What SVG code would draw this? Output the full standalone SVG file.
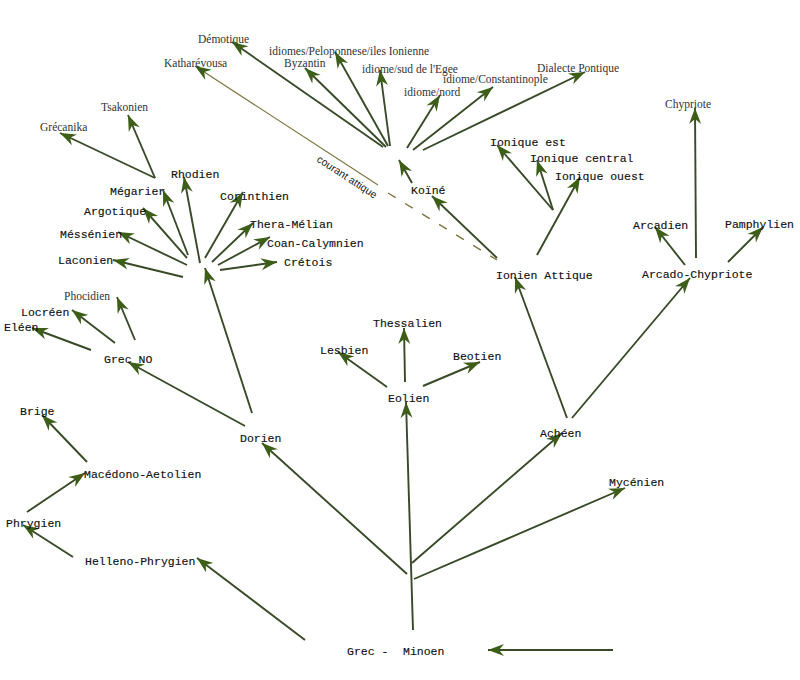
<svg xmlns="http://www.w3.org/2000/svg" width="800" height="680" viewBox="0 0 800 680">
<defs>
<style>
.m{font-family:"Liberation Mono","Courier New",monospace;font-size:11.5px;fill:#111;stroke:#111;stroke-width:0.15}
.s{font-family:"Liberation Serif","Times New Roman",serif;font-size:11.5px;fill:#333}
.c line{stroke:#384a28;stroke-width:1.9;marker-end:url(#ah)}
.c line.o{stroke:#7d7440;stroke-width:1.2}
.c line.d{stroke:#7d7440;stroke-width:1.4;stroke-dasharray:9 11;marker-end:none}
</style>
<marker id="ah" viewBox="-17 -7 18 14" refX="0" refY="0" markerWidth="18" markerHeight="14" markerUnits="userSpaceOnUse" orient="auto">
<path d="M0,0 L-16,-6 L-11,0 L-16,6 Z" fill="#3c5e17"/>
</marker>
</defs>
<rect width="800" height="680" fill="#ffffff"/>
<g class="c" id="connectors">
<line x1="383" y1="147" x2="232" y2="42"/>
<line x1="386" y1="147" x2="305" y2="68"/>
<line x1="388" y1="146" x2="335" y2="52"/>
<line x1="390" y1="146" x2="380" y2="70"/>
<line x1="407" y1="148" x2="440" y2="95"/>
<line x1="413" y1="150" x2="493" y2="87"/>
<line x1="423" y1="150" x2="585" y2="72"/>
<line x1="412" y1="183" x2="399" y2="160"/>
<line class="o" x1="378" y1="185" x2="195" y2="66"/>
<line class="d" x1="388" y1="193" x2="497" y2="260"/>
<line x1="497" y1="258" x2="432" y2="196"/>
<line x1="553" y1="210" x2="497" y2="145"/>
<line x1="553" y1="210" x2="537" y2="160"/>
<line x1="537" y1="255" x2="580" y2="177"/>
<line x1="567" y1="418" x2="515" y2="277"/>
<line x1="572" y1="418" x2="690" y2="278"/>
<line x1="696" y1="258" x2="695" y2="108"/>
<line x1="685" y1="265" x2="655" y2="227"/>
<line x1="728" y1="262" x2="763" y2="227"/>
<line x1="155" y1="178" x2="60" y2="133"/>
<line x1="155" y1="178" x2="128" y2="115"/>
<line x1="188" y1="255" x2="163" y2="190"/>
<line x1="200" y1="263" x2="184" y2="177"/>
<line x1="187" y1="258" x2="143" y2="208"/>
<line x1="187" y1="265" x2="118" y2="232"/>
<line x1="183" y1="277" x2="113" y2="260"/>
<line x1="205" y1="258" x2="243" y2="192"/>
<line x1="212" y1="262" x2="253" y2="223"/>
<line x1="218" y1="265" x2="270" y2="237"/>
<line x1="220" y1="270" x2="277" y2="262"/>
<line x1="252" y1="413" x2="205" y2="268"/>
<line x1="245" y1="426" x2="128" y2="362"/>
<line x1="91" y1="350" x2="32" y2="328"/>
<line x1="115" y1="343" x2="72" y2="310"/>
<line x1="135" y1="340" x2="117" y2="297"/>
<line x1="87" y1="462" x2="42" y2="415"/>
<line x1="27" y1="512" x2="85" y2="473"/>
<line x1="73" y1="557" x2="23" y2="525"/>
<line x1="305" y1="640" x2="197" y2="558"/>
<line x1="413" y1="630" x2="406" y2="402"/>
<line x1="407" y1="574" x2="262" y2="443"/>
<line x1="412" y1="563" x2="562" y2="433"/>
<line x1="414" y1="579" x2="625" y2="488"/>
<line x1="613" y1="650" x2="488" y2="650"/>
<line x1="387" y1="387" x2="338" y2="352"/>
<line x1="405" y1="382" x2="404" y2="328"/>
<line x1="423" y1="386" x2="480" y2="362"/>
</g>
<text x="316" y="161" transform="rotate(33 316 161)" font-family="'Liberation Sans',Arial,sans-serif" font-size="10.5" fill="#222">courant attique</text>
<g id="n-demotique"><text class="s" x="198" y="43">Démotique</text></g>
<g id="n-katharevousa"><text class="s" x="164" y="67">Katharévousa</text></g>
<g id="n-idiomes-pelop"><text class="s" x="269" y="55">idiomes/Peloponnese/iles Ionienne</text></g>
<g id="n-byzantin"><text class="s" x="284" y="67">Byzantin</text></g>
<g id="n-idiome-sud"><text class="s" x="362" y="73">idiome/sud de l'Egee</text></g>
<g id="n-idiome-const"><text class="s" x="443" y="83">idiome/Constantinople</text></g>
<g id="n-idiome-nord"><text class="s" x="404" y="96">idiome/nord</text></g>
<g id="n-pontique"><text class="s" x="537" y="72">Dialecte Pontique</text></g>
<g id="n-chypriote"><text class="s" x="665" y="108">Chypriote</text></g>
<g id="n-tsakonien"><text class="s" x="101" y="111">Tsakonien</text></g>
<g id="n-grecanika"><text class="s" x="40" y="131">Grécanika</text></g>
<g id="n-phocidien"><text class="s" x="64" y="300">Phocidien</text></g>
<g id="n-rhodien"><text class="m" x="171" y="178">Rhodien</text></g>
<g id="n-megarier"><text class="m" x="110" y="195">Mégarier</text></g>
<g id="n-corinthien"><text class="m" x="220" y="200">Corinthien</text></g>
<g id="n-argotique"><text class="m" x="84" y="215">Argotique</text></g>
<g id="n-thera"><text class="m" x="250" y="228">Thera-Mélian</text></g>
<g id="n-messenien"><text class="m" x="60" y="238">Méssénien</text></g>
<g id="n-coan"><text class="m" x="267" y="247">Coan-Calymnien</text></g>
<g id="n-laconien"><text class="m" x="58" y="264">Laconien</text></g>
<g id="n-cretois"><text class="m" x="284" y="266">Crétois</text></g>
<g id="n-koine"><text class="m" x="411" y="194">Koïné</text></g>
<g id="n-ionique-est"><text class="m" x="490" y="146">Ionique est</text></g>
<g id="n-ionique-central"><text class="m" x="530" y="162">Ionique central</text></g>
<g id="n-ionique-ouest"><text class="m" x="555" y="180">Ionique ouest</text></g>
<g id="n-ionien-attique"><text class="m" x="496" y="279">Ionien Attique</text></g>
<g id="n-arcadien"><text class="m" x="633" y="229">Arcadien</text></g>
<g id="n-pamphylien"><text class="m" x="725" y="228">Pamphylien</text></g>
<g id="n-arcado"><text class="m" x="642" y="278">Arcado-Chypriote</text></g>
<g id="n-locreen"><text class="m" x="21" y="316">Locréen</text></g>
<g id="n-eleen"><text class="m" x="4" y="331">Eléen</text></g>
<g id="n-grecno"><text class="m" x="104" y="363">Grec NO</text></g>
<g id="n-thessalien"><text class="m" x="373" y="327">Thessalien</text></g>
<g id="n-lesbien"><text class="m" x="320" y="354">Lesbien</text></g>
<g id="n-beotien"><text class="m" x="453" y="360">Beotien</text></g>
<g id="n-eolien"><text class="m" x="388" y="402">Eolien</text></g>
<g id="n-brige"><text class="m" x="20" y="415">Brige</text></g>
<g id="n-dorien"><text class="m" x="240" y="442">Dorien</text></g>
<g id="n-acheen"><text class="m" x="540" y="437">Achéen</text></g>
<g id="n-macedono"><text class="m" x="84" y="478">Macédono-Aetolien</text></g>
<g id="n-mycenien"><text class="m" x="609" y="486">Mycénien</text></g>
<g id="n-phrygien"><text class="m" x="6" y="527">Phrygien</text></g>
<g id="n-helleno"><text class="m" x="85" y="565">Helleno-Phrygien</text></g>
<g id="n-grec-minoen"><text class="m" x="347" y="655">Grec -</text><text class="m" x="403" y="655">Minoen</text></g>
</svg>
